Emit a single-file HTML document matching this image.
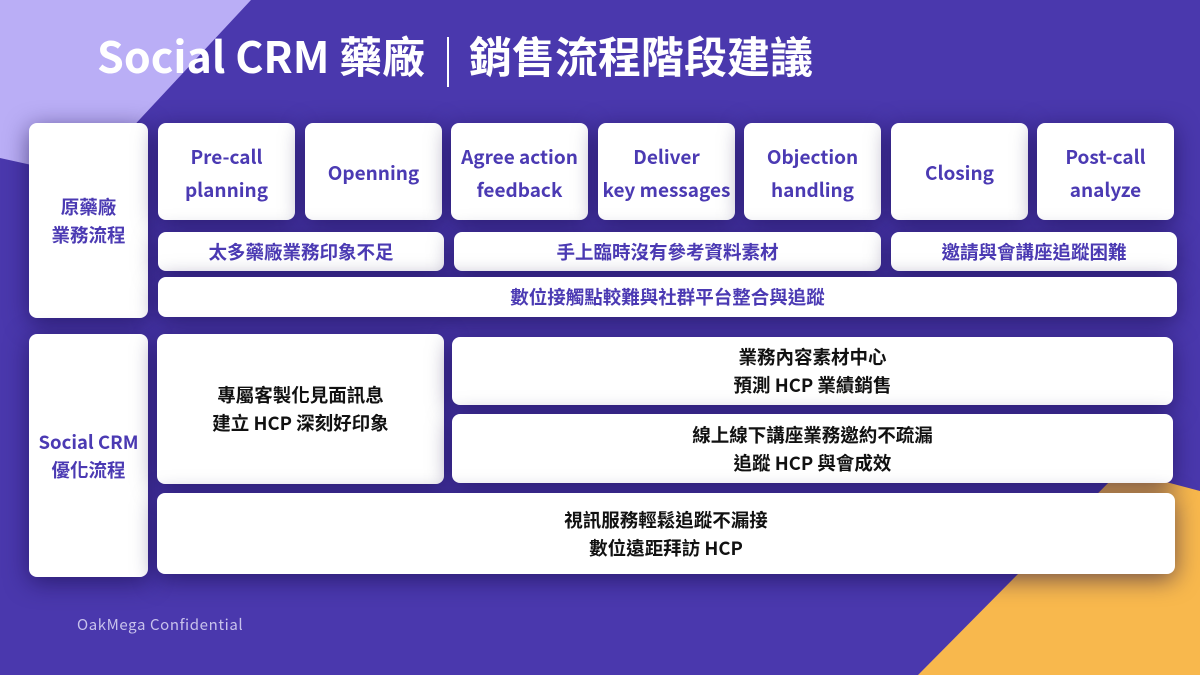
<!DOCTYPE html>
<html>
<head>
<meta charset="utf-8">
<style>
  html,body{margin:0;padding:0;}
  body{width:1200px;height:675px;overflow:hidden;position:relative;background:#4a38ad;font-family:"Noto Sans CJK TC","Noto Sans CJK SC","Liberation Sans",sans-serif;}
  .bg{position:absolute;left:0;top:0;}
  .card{position:absolute;background:#fff;border-radius:8px;box-shadow:0 5px 24px rgba(22,10,70,0.6);display:flex;align-items:center;justify-content:center;text-align:center;font-weight:700;box-sizing:border-box;}
  .p{color:#4b3ab3;}
  .k{color:#111;}
  .top{font-size:19px;line-height:33px;padding-top:2px;}
  .cn{font-size:18.5px;line-height:28px;}
  .title{position:absolute;color:#fff;font-weight:700;font-size:43px;line-height:52px;top:29px;white-space:nowrap;}
</style>
</head>
<body>
<svg class="bg" width="1200" height="675" viewBox="0 0 1200 675">
  <polygon points="0,0 251,0 86,177 0,158" fill="#baaef6"/>
  <polygon points="918,675 1121,470 1200,491 1200,675" fill="#f8b84d"/>
</svg>

<div class="title" style="left:97px;">Social CRM 藥廠</div>
<div style="position:absolute;left:447px;top:37px;width:2px;height:50px;background:#fff;"></div>
<div class="title" style="left:469px;">銷售流程階段建議</div>

<!-- Section 1 -->
<div class="card p cn" style="left:29px;top:123px;width:119px;height:195px;">原藥廠<br>業務流程</div>

<div class="card p top" style="left:158px;top:123px;width:137px;height:97px;">Pre-call<br>planning</div>
<div class="card p top" style="left:305px;top:123px;width:137px;height:97px;">Openning</div>
<div class="card p top" style="left:451px;top:123px;width:137px;height:97px;">Agree action<br>feedback</div>
<div class="card p top" style="left:598px;top:123px;width:137px;height:97px;">Deliver<br>key messages</div>
<div class="card p top" style="left:744px;top:123px;width:137px;height:97px;">Objection<br>handling</div>
<div class="card p top" style="left:891px;top:123px;width:137px;height:97px;">Closing</div>
<div class="card p top" style="left:1037px;top:123px;width:137px;height:97px;">Post-call<br>analyze</div>

<div class="card p cn" style="left:158px;top:232px;width:286px;height:39px;">太多藥廠業務印象不足</div>
<div class="card p cn" style="left:454px;top:232px;width:427px;height:39px;">手上臨時沒有參考資料素材</div>
<div class="card p cn" style="left:891px;top:232px;width:286px;height:39px;">邀請與會講座追蹤困難</div>

<div class="card p cn" style="left:158px;top:277px;width:1019px;height:40px;">數位接觸點較難與社群平台整合與追蹤</div>

<!-- Section 2 -->
<div class="card p cn" style="left:29px;top:334px;width:119px;height:243px;">Social CRM<br>優化流程</div>

<div class="card k cn" style="left:157px;top:334px;width:287px;height:150px;">專屬客製化見面訊息<br>建立 HCP 深刻好印象</div>
<div class="card k cn" style="left:452px;top:337px;width:721px;height:68px;">業務內容素材中心<br>預測 HCP 業績銷售</div>
<div class="card k cn" style="left:452px;top:414px;width:721px;height:69px;">線上線下講座業務邀約不疏漏<br>追蹤 HCP 與會成效</div>
<div class="card k cn" style="left:157px;top:493px;width:1018px;height:81px;">視訊服務輕鬆追蹤不漏接<br>數位遠距拜訪 HCP</div>

<div style="position:absolute;left:77px;top:614px;font-size:15px;line-height:22px;color:#c8c2ec;letter-spacing:0.6px;white-space:nowrap;">OakMega Confidential</div>
</body>
</html>
